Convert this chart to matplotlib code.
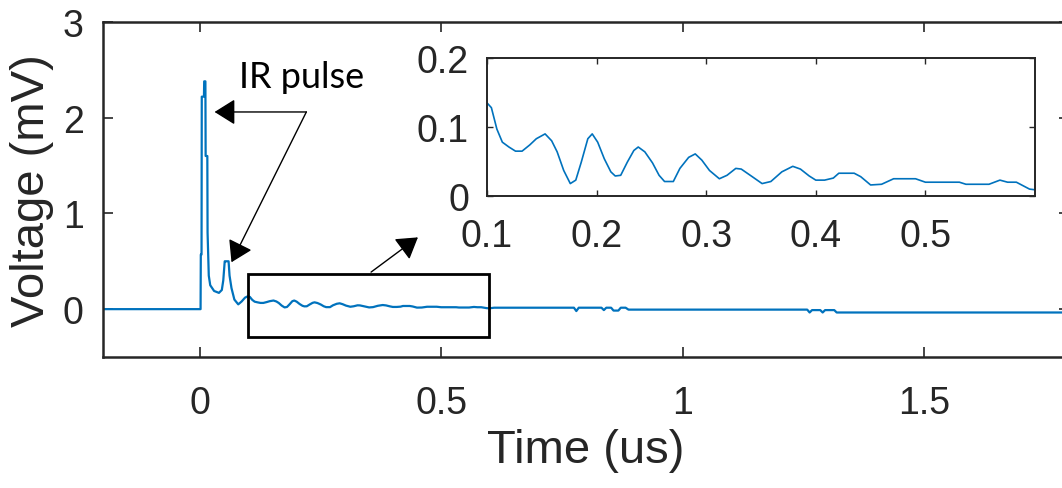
import matplotlib
matplotlib.use("Agg")
import matplotlib.pyplot as plt
from matplotlib.patches import Rectangle

plt.rcParams['font.family'] = ['Liberation Sans', 'DejaVu Sans']

# --- data ---
# spike region (main plot only)
t_pulse = [-0.2, 0.002, 0.0025, 0.004, 0.0045, 0.009, 0.0095, 0.012, 0.0125, 0.016,
           0.0165, 0.019, 0.022, 0.03, 0.04, 0.046, 0.049, 0.052, 0.054, 0.06,
           0.062, 0.066, 0.072, 0.08, 0.087, 0.094]
v_pulse = [0, 0, 0.57, 0.57, 2.22, 2.22, 2.38, 2.38, 1.6, 1.6,
           0.8, 0.35, 0.25, 0.19, 0.17, 0.2, 0.3, 0.5, 0.5, 0.5,
           0.35, 0.22, 0.1, 0.05, 0.08, 0.12]

# ringing region, also shown in the inset (0.1 - 0.6 us)
t_ring = [0.100, 0.104, 0.109, 0.114, 0.120, 0.126, 0.132, 0.139, 0.145, 0.153,
          0.159, 0.164, 0.170, 0.176, 0.181, 0.186, 0.192, 0.196, 0.201, 0.207,
          0.213, 0.217, 0.222, 0.228, 0.234, 0.238, 0.244, 0.251, 0.257, 0.262,
          0.270, 0.276, 0.284, 0.290, 0.296, 0.303, 0.312, 0.319, 0.327, 0.332,
          0.342, 0.351, 0.359, 0.369, 0.379, 0.386, 0.394, 0.400, 0.408, 0.416,
          0.421, 0.435, 0.441, 0.450, 0.460, 0.471, 0.491, 0.500, 0.531, 0.537,
          0.558, 0.568, 0.575, 0.583, 0.595, 0.600]
v_ring = [0.135, 0.128, 0.097, 0.078, 0.071, 0.065, 0.065, 0.074, 0.083, 0.090,
          0.080, 0.064, 0.037, 0.018, 0.023, 0.049, 0.083, 0.090, 0.078, 0.054,
          0.035, 0.029, 0.030, 0.049, 0.066, 0.071, 0.064, 0.048, 0.030, 0.021,
          0.021, 0.040, 0.056, 0.061, 0.052, 0.037, 0.025, 0.030, 0.040, 0.039,
          0.028, 0.018, 0.021, 0.035, 0.043, 0.039, 0.029, 0.023, 0.023, 0.026,
          0.033, 0.033, 0.028, 0.016, 0.017, 0.025, 0.025, 0.020, 0.020, 0.017,
          0.017, 0.023, 0.020, 0.020, 0.010, 0.009]

# tail (main plot only)
t_tail = [0.61, 0.775, 0.78, 0.785, 0.79, 0.832, 0.837, 0.842, 0.852, 0.857,
          0.867, 0.872, 0.882, 0.888, 1.258, 1.263, 1.268, 1.285, 1.29, 1.295,
          1.314, 1.319, 1.8]
v_tail = [0.015, 0.015, -0.02, 0.015, 0.015, 0.015, -0.01, 0.015, 0.015, -0.015,
          -0.015, 0.015, 0.015, -0.005, -0.005, -0.035, -0.01, -0.01, -0.035, -0.01,
          -0.01, -0.035, -0.035]

t_all = t_pulse + t_ring + t_tail
v_all = v_pulse + v_ring + v_tail

blue = '#0072BD'
dark = '#262626'
W, H = 1062, 489

fig = plt.figure(figsize=(W / 100, H / 100), dpi=100)

# main axes (right edge sits just past the figure, like the cropped original)
ax = fig.add_axes([103 / W, (H - 358) / H, (1069 - 103) / W, 335 / H])
ax.plot(t_all, v_all, color=blue, lw=1.6)
ax.set_xlim(-0.2, 1.8)
ax.set_ylim(-0.5, 3)
ax.set_xticks([0, 0.5, 1, 1.5])
ax.set_xticklabels(['0', '0.5', '1', '1.5'])
ax.set_yticks([0, 1, 2, 3])
ax.tick_params(direction='in', top=True, right=True, length=7, width=1.2,
               color=dark, labelcolor=dark, labelsize=27)
ax.tick_params(axis='x', pad=20)
ax.tick_params(axis='y', pad=14)
for s in ax.spines.values():
    s.set_color(dark)
    s.set_linewidth(1.8)
ax.set_xlabel('Time (us)', fontsize=34, color=dark, labelpad=5)
ax.set_ylabel('Voltage (mV)', fontsize=34, color=dark, labelpad=6)

# zoom box
ax.add_patch(Rectangle((0.1, -0.29), 0.5, 0.66, fill=False, ec='black', lw=2, zorder=4))

# annotations
ax.text(0.081, 2.32, 'IR pulse', fontsize=26, family=['Lato', 'DejaVu Sans'],
        ha='left', va='baseline', color='black')
arrow_kw = dict(arrowstyle='-|>,head_length=0.4,head_width=0.25', mutation_scale=32,
                color='black', lw=1, shrinkA=0, shrinkB=0)
ax.annotate('', xy=(0.031, 2.06), xytext=(0.221, 2.06), arrowprops=arrow_kw)
ax.annotate('', xy=(0.066, 0.49), xytext=(0.221, 2.06), arrowprops=arrow_kw)
ax.annotate('', xy=(0.452, 0.75), xytext=(0.355, 0.387), arrowprops=arrow_kw)

# inset
axin = fig.add_axes([487 / W, (H - 197) / H, (1035 - 487) / W, 138 / H])
axin.plot(t_ring, v_ring, color=blue, lw=1.2)
axin.set_xlim(0.1, 0.6)
axin.set_ylim(0, 0.2)
axin.set_xticks([0.1, 0.2, 0.3, 0.4, 0.5])
axin.set_xticklabels(['0.1', '0.2', '0.3', '0.4', '0.5'])
axin.set_yticks([0, 0.1, 0.2])
axin.set_yticklabels(['0', '0.1', '0.2'])
axin.tick_params(direction='in', top=True, right=True, length=4, width=1,
                 color=dark, labelcolor=dark, labelsize=27)
axin.tick_params(axis='x', pad=16)
axin.tick_params(axis='y', pad=13)
for s in axin.spines.values():
    s.set_color(dark)
    s.set_linewidth(1.4)

fig.savefig('out.png', dpi=100)
